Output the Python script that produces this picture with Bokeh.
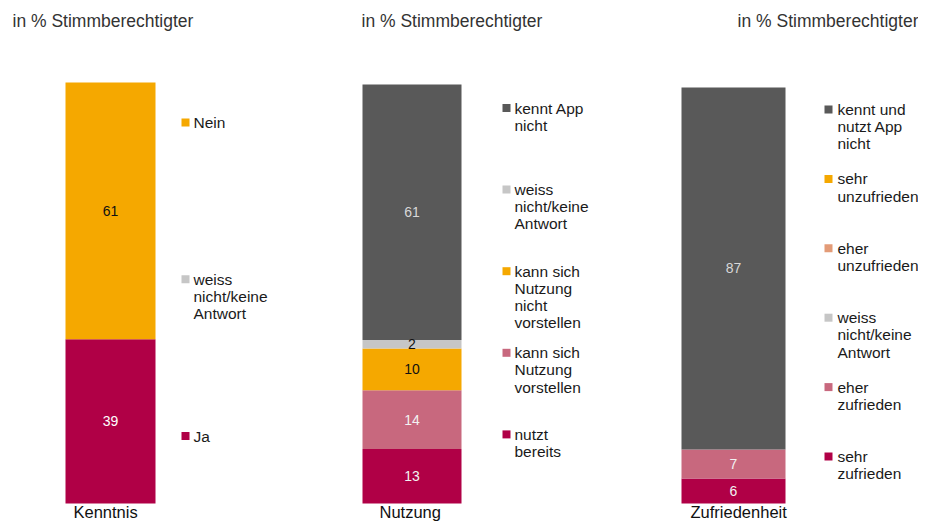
from bokeh.plotting import figure
from bokeh.models import Range1d, ColumnDataSource
from bokeh.core.properties import value
from bokeh.embed import file_html
from bokeh.resources import INLINE

# ---------------- data ----------------
title_text = "in % Stimmberechtigter"

k_categories = ["Ja", "weiss nicht/keine Antwort", "Nein"]          # bottom -> top
k_values = [39, 0, 61]
k_legend = ["Nein", "weiss\nnicht/keine\nAntwort", "Ja"]               # top -> bottom

n_categories = ["nutzt bereits", "kann sich Nutzung vorstellen",
                "kann sich Nutzung nicht vorstellen", "weiss nicht/keine Antwort",
                "kennt App nicht"]
n_values = [13, 14, 10, 2, 61]
n_legend = ["kennt App\nnicht", "weiss\nnicht/keine\nAntwort",
            "kann sich\nNutzung\nnicht\nvorstellen", "kann sich\nNutzung\nvorstellen",
            "nutzt\nbereits"]

z_categories = ["sehr zufrieden", "eher zufrieden", "weiss nicht/keine Antwort",
                "eher unzufrieden", "sehr unzufrieden", "kennt und nutzt App nicht"]
z_values = [6, 7, 0, 0, 0, 87]
z_legend = ["kennt und\nnutzt App\nnicht", "sehr\nunzufrieden", "eher\nunzufrieden",
            "weiss\nnicht/keine\nAntwort", "eher\nzufrieden", "sehr\nzufrieden"]

panel_names = ["Kenntnis", "Nutzung", "Zufriedenheit"]

# ---------------- styles ----------------
C_ORANGE = "#F5A800"
C_CRIMSON = "#B00046"
C_DARK = "#595959"
C_LIGHT = "#C6C6C6"
C_PINK = "#C8687E"
C_SALMON = "#E39B77"

k_colors = [C_CRIMSON, C_LIGHT, C_ORANGE]
n_colors = [C_CRIMSON, C_PINK, C_ORANGE, C_LIGHT, C_DARK]
z_colors = [C_CRIMSON, C_PINK, C_LIGHT, C_SALMON, C_ORANGE, C_DARK]

k_label_colors = ["#FFFFFF", "#111111", "#111111"]
n_label_colors = ["#F2F2F2", "#F2F2F2", "#111111", "#111111", "#D8D8D8"]
z_label_colors = ["#F2F2F2", "#F2F2F2", "#111111", "#111111", "#111111", "#D8D8D8"]

W, H = 918, 521
FONT = "Liberation Sans"

p = figure(width=W, height=H, output_backend="svg", toolbar_location=None,
           x_range=Range1d(0, W), y_range=Range1d(H, 0), min_border=0,
           outline_line_color=None)
p.axis.visible = False
p.grid.visible = False
p.background_fill_color = "white"
p.border_fill_color = "white"

BAR_BOTTOM = 503

panels = [
    dict(vals=k_values, cols=k_colors, lcols=k_label_colors, legend=k_legend,
         legcols=list(reversed(k_colors)), x0=65, x1=155, top=82,
         mx=185, tx=193, ly0=122, lstep=156.75, name_x=73, title_x=12, title_align="left"),
    dict(vals=n_values, cols=n_colors, lcols=n_label_colors, legend=n_legend,
         legcols=list(reversed(n_colors)), x0=362, x1=461, top=84,
         mx=506, tx=514, ly0=107.5, lstep=81.6, name_x=379, title_x=361, title_align="left"),
    dict(vals=z_values, cols=z_colors, lcols=z_label_colors, legend=z_legend,
         legcols=list(reversed(z_colors)), x0=681, x1=785, top=87,
         mx=828, tx=837, ly0=109, lstep=69.4, name_x=690, title_x=918, title_align="right"),
]

for i, pn in enumerate(panels):
    t = pn["top"]
    s = (BAR_BOTTOM - t) / 100.0
    rname = f"r{i}"
    p.extra_y_ranges[rname] = Range1d(start=-(H - BAR_BOTTOM) / s, end=100 + t / s)

    vals = pn["vals"]
    bottoms, tops = [], []
    acc = 0
    for v in vals:
        bottoms.append(acc)
        acc += v
        tops.append(acc)
    xc = (pn["x0"] + pn["x1"]) / 2
    bw = pn["x1"] - pn["x0"]
    src = ColumnDataSource(dict(x=[xc] * len(vals), bottom=bottoms, top=tops,
                                color=pn["cols"]))
    p.vbar(x="x", width=bw, bottom="bottom", top="top", fill_color="color",
           line_color=None, source=src, y_range_name=rname)

    # value labels
    lx, ly, lt, lc = [], [], [], []
    for v, b, tp, c in zip(vals, bottoms, tops, pn["lcols"]):
        if v > 0:
            lx.append(xc)
            ly.append((b + tp) / 2)
            lt.append(str(v))
            lc.append(c)
    p.text(x=lx, y=ly, text=lt, text_color=lc, text_align="center",
           text_baseline="middle", text_font=value(FONT), text_font_size="14px",
           y_range_name=rname)

    # legend
    n = len(pn["legend"])
    ys = [pn["ly0"] + k * pn["lstep"] for k in range(n)]
    p.scatter(x=[pn["mx"]] * n, y=ys, marker="square", size=8,
              fill_color=pn["legcols"], line_color=None)
    p.text(x=[pn["tx"]] * n, y=[y - 8.5 for y in ys], text=pn["legend"],
           text_color="#1A1A1A", text_align="left", text_baseline="top",
           text_font=value(FONT), text_font_size="15.5px", text_line_height=1.01)

    # title
    p.text(x=[pn["title_x"]], y=[20], text=[title_text],
           text_color="#333333", text_align=pn["title_align"], text_baseline="middle",
           text_font=value(FONT), text_font_size="17.5px")

    # category name
    p.text(x=[pn["name_x"]], y=[511.5], text=[panel_names[i]],
           text_color="#111111", text_align="left", text_baseline="middle",
           text_font=value(FONT), text_font_size="16.5px")

open("out.html", "w").write(file_html(p, INLINE))
